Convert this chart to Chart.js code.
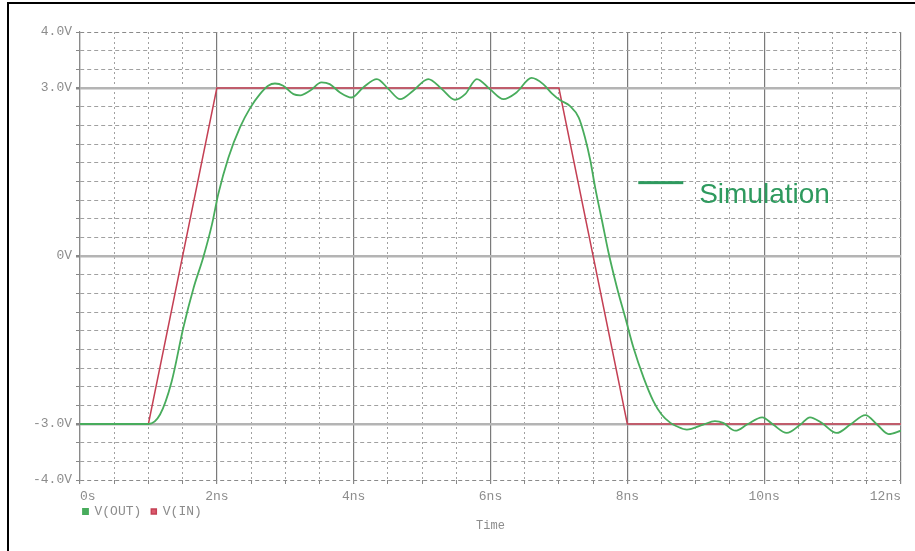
<!DOCTYPE html>
<html>
<head>
<meta charset="utf-8">
<script src="https://cdn.jsdelivr.net/npm/chart.js@4.4.1/dist/chart.umd.min.js"></script>
<style>
  body { margin: 0; background: #fff; }
  #wrap { position: relative; width: 915px; height: 551px; overflow: hidden; }
  #frame { position: absolute; left: 7px; top: 2px; width: 940px; height: 580px;
           border-top: 2px solid #000; border-left: 2px solid #000; pointer-events: none; }
</style>
</head>
<body>
<div id="wrap">
  <canvas id="canvas-transient" width="915" height="551"></canvas>
  <div id="frame"></div>
</div>
<script>
// V(IN): ideal trapezoid input (ns, V)
const timeIn = [0, 1, 2, 7, 8, 12];
const vIn = [-3, -3, 3, 3, -3, -3];

// V(OUT): simulated output with ringing (ns, V)
const timeOut = [0, 1.0, 1.17, 1.34, 1.51, 1.66, 1.80, 1.93, 2.02, 2.17, 2.34, 2.49, 2.63, 2.75, 2.85,
  2.97, 3.12, 3.22, 3.36, 3.53, 3.65, 3.80, 3.97, 4.14, 4.34, 4.51, 4.68, 4.87, 5.09, 5.29, 5.48,
  5.63, 5.80, 5.99, 6.19, 6.38, 6.60, 6.77, 6.90, 7.02, 7.16, 7.29, 7.38, 7.46, 7.53, 7.63, 7.72,
  7.85, 7.97, 8.09, 8.24, 8.38, 8.50, 8.63, 8.72, 8.87, 9.11, 9.28, 9.40, 9.58, 9.75, 9.97, 10.13,
  10.33, 10.53, 10.67, 10.84, 11.06, 11.26, 11.48, 11.65, 11.82, 12.0];
const vOut = [-3, -3, -2.83, -2.24, -1.28, -0.57, -0.03, 0.57, 1.10, 1.76, 2.30, 2.65, 2.89, 3.04, 3.08,
  3.04, 2.89, 2.87, 2.95, 3.10, 3.07, 2.92, 2.83, 3.01, 3.16, 2.98, 2.80, 2.95, 3.16, 2.98, 2.79,
  2.89, 3.16, 2.98, 2.80, 2.92, 3.18, 3.07, 2.90, 2.78, 2.68, 2.47, 2.12, 1.70, 1.22, 0.63, 0.09,
  -0.57, -1.10, -1.64, -2.18, -2.59, -2.83, -2.98, -3.04, -3.10, -3.01, -2.95, -2.98, -3.12, -3.01, -2.88, -3.01,
  -3.16, -3.01, -2.88, -2.98, -3.16, -3.01, -2.84, -3.01, -3.18, -3.12];

// tick labels
const xLabelValues = [0, 2, 4, 6, 8, 10, 12];
const xLabels = ["0s", "2ns", "4ns", "6ns", "8ns", "10ns", "12ns"];
const yLabelValues = [4, 3, 0, -3, -4];
const yLabels = ["4.0V", "3.0V", "0V", "-3.0V", "-4.0V"];

const near = (a, b) => Math.abs(a - b) < 1e-6;
const labelFor = (values, labels, v) => {
  const i = values.findIndex((x) => near(x, v));
  return i >= 0 ? labels[i] : "";
};
const isMajorX = (v) => near(v / 2, Math.round(v / 2));
const isMajorY = (v) => near(Math.abs(v), 3) || near(v, 0);
const isEdgeY = (v) => near(Math.abs(v), 4);

const monoFont = { family: "'Liberation Mono', 'DejaVu Sans Mono', monospace", size: 13 };

// move the legend row up/left a little so it sits right under the axis labels
const legendNudge = {
  id: "legendNudge",
  afterLayout(chart) {
    const l = chart.legend;
    l.left -= 7;
    l.right -= 7;
    l.top -= 8;
    l.bottom = l.top + 30;
  },
};

const simulationNote = {
  id: "simulationNote",
  afterDraw(chart) {
    const ctx = chart.ctx;
    const x = chart.scales.x;
    const y = chart.scales.y;
    ctx.save();
    ctx.fillStyle = "rgb(46,154,94)";
    ctx.fillRect(x.getPixelForValue(8.16), y.getPixelForValue(1.31) - 1.5, 45, 3);
    ctx.font = "28px 'Liberation Sans', Arial, sans-serif";
    ctx.textBaseline = "alphabetic";
    ctx.fillText("Simulation", x.getPixelForValue(9.05), y.getPixelForValue(0.95));
    ctx.restore();
  },
};

new Chart(document.getElementById("canvas-transient"), {
  type: "line",
  plugins: [legendNudge, simulationNote],
  data: {
    datasets: [
      {
        label: "V(OUT)",
        data: timeOut.map((t, i) => ({ x: t, y: vOut[i] })),
        borderColor: "rgb(72,172,92)",
        backgroundColor: "rgb(72,172,92)",
        borderWidth: 1.8,
        pointRadius: 0,
        cubicInterpolationMode: "monotone",
      },
      {
        label: "V(IN)",
        data: timeIn.map((t, i) => ({ x: t, y: vIn[i] })),
        borderColor: "rgb(196,64,84)",
        backgroundColor: "rgb(220,90,110)",
        borderWidth: 1.5,
        pointRadius: 0,
        tension: 0,
      },
    ],
  },
  options: {
    responsive: false,
    animation: false,
    layout: { padding: { left: 0, top: 32, right: 14, bottom: 17.6 } },
    scales: {
      x: {
        type: "linear",
        min: 0,
        max: 12,
        afterBuildTicks: (scale) => {
          const ticks = [];
          for (let i = 0; i <= 24; i++) ticks.push({ value: i * 0.5 });
          scale.ticks = ticks;
        },
        afterFit: (scale) => {
          scale.height = 23;
          scale.paddingLeft = 0;
          scale.paddingRight = 14;
        },
        ticks: {
          autoSkip: false,
          maxRotation: 0,
          align: "inner",
          padding: 5,
          color: "#8c8c8c",
          font: monoFont,
          callback: (v) => labelFor(xLabelValues, xLabels, v),
        },
        grid: {
          color: (c) => (c.tick && isMajorX(c.tick.value) ? "#7a7a7a" : "#a0a0a0"),
          lineWidth: (c) => (c.tick && isMajorX(c.tick.value) ? 1.2 : 1),
          drawTicks: true,
          tickLength: 4,
          tickColor: "#888",
        },
        border: {
          display: false,
          dash: (c) => (c.tick && !isMajorX(c.tick.value) ? [2, 3] : []),
        },
      },
      y: {
        min: -4,
        max: 4,
        afterBuildTicks: (scale) => {
          const ticks = [];
          for (let i = 0; i <= 24; i++) ticks.push({ value: -4 + i / 3 });
          scale.ticks = ticks;
        },
        afterFit: (scale) => { scale.width = 80; },
        ticks: {
          autoSkip: false,
          padding: 4,
          color: "#8c8c8c",
          font: monoFont,
          callback: (v) => labelFor(yLabelValues, yLabels, v),
        },
        grid: {
          color: (c) => {
            if (!c.tick) return "#999";
            if (isMajorY(c.tick.value)) return "#b4b4b4";
            if (isEdgeY(c.tick.value)) return "#8a8a8a";
            return "#a0a0a0";
          },
          lineWidth: (c) => (c.tick && isMajorY(c.tick.value) ? 2.5 : 1),
          drawTicks: true,
          tickLength: 4,
          tickColor: "#888",
        },
        border: {
          display: true,
          color: "#8a8a8a",
          width: 1.2,
          dash: (c) => (c.tick && !isMajorY(c.tick.value) ? [4, 3] : []),
        },
      },
    },
    plugins: {
      legend: {
        display: true,
        position: "bottom",
        align: "start",
        fullSize: false,
        maxHeight: 16,
        labels: {
          usePointStyle: true,
          pointStyle: "rect",
          boxWidth: 5,
          boxHeight: 5,
          padding: 10,
          color: "#8c8c8c",
          font: monoFont,
        },
      },
      title: {
        display: true,
        position: "bottom",
        fullSize: false,
        text: "Time",
        color: "#8c8c8c",
        font: { family: monoFont.family, size: 12, weight: "normal" },
        padding: { top: 0, bottom: 0 },
      },
      tooltip: { enabled: false },
    },
  },
});
</script>
</body>
</html>
